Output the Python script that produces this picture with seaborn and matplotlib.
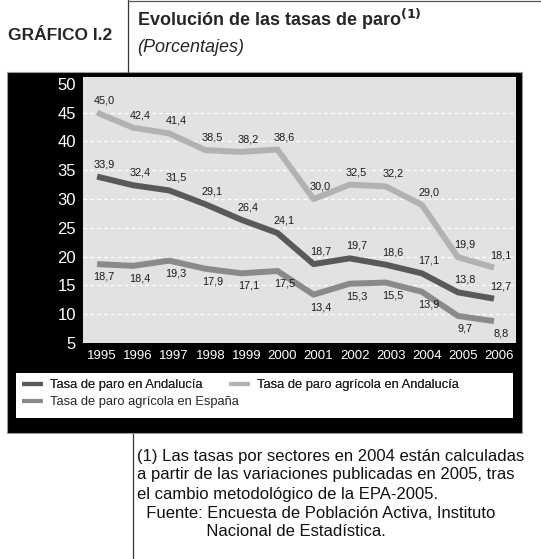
import pandas as pd
import seaborn as sns
import matplotlib.pyplot as plt
from matplotlib import font_manager
from matplotlib.patches import Rectangle
from matplotlib.lines import Line2D
import matplotlib.transforms as mtransforms

years = [1995, 1996, 1997, 1998, 1999, 2000, 2001, 2002, 2003, 2004, 2005, 2006]
paro_andalucia = [33.9, 32.4, 31.5, 29.1, 26.4, 24.1, 18.7, 19.7, 18.6, 17.1, 13.8, 12.7]
paro_agr_andalucia = [45.0, 42.4, 41.4, 38.5, 38.2, 38.6, 30.0, 32.5, 32.2, 29.0, 19.9, 18.1]
paro_agr_espana = [18.7, 18.4, 19.3, 17.9, 17.1, 17.5, 13.4, 15.3, 15.5, 13.9, 9.7, 8.8]
series_names = ["Tasa de paro en Andalucía",
                "Tasa de paro agrícola en Andalucía",
                "Tasa de paro agrícola en España"]
y_ticks = [5, 10, 15, 20, 25, 30, 35, 40, 45, 50]

colors = ["#595959", "#b2b2b2", "#8a8a8a"]

sns.set_style("white")
names = {f.name for f in font_manager.fontManager.ttflist}
narrow = "Liberation Sans Narrow" if "Liberation Sans Narrow" in names else "Liberation Sans"
plt.rcParams["font.family"] = ["Liberation Sans", "DejaVu Sans"]

W, H = 541, 559
fig = plt.figure(figsize=(W / 100, H / 100), dpi=100)


def fx(px):
    return px / W


def fy(py):
    return 1 - py / H


# black panel behind the chart
fig.patches.append(Rectangle((fx(7), fy(433)), fx(522) - fx(7), fy(72) - fy(433),
                             transform=fig.transFigure, facecolor="black",
                             edgecolor="#9a9a9a", lw=0.8, zorder=-3))
# white box for the legend
fig.patches.append(Rectangle((fx(16), fy(418)), fx(513) - fx(16), fy(373) - fy(418),
                             transform=fig.transFigure, facecolor="white",
                             edgecolor="none", zorder=-2))
# frame lines of the page
fig.lines.append(Line2D([fx(128), fx(128)], [fy(0), fy(72)], transform=fig.transFigure,
                        color="#333333", lw=0.9))
fig.lines.append(Line2D([fx(128), fx(541)], [fy(1), fy(1)], transform=fig.transFigure,
                        color="#555555", lw=0.9))
fig.lines.append(Line2D([fx(133), fx(133)], [fy(434), fy(559)], transform=fig.transFigure,
                        color="#333333", lw=0.9))

ax = fig.add_axes([fx(83), fy(343), fx(516) - fx(83), fy(77) - fy(343)])
ax.set_zorder(1)
ax.set_facecolor("#e1e2e1")

data = [paro_andalucia, paro_agr_andalucia, paro_agr_espana]
for name, vals, c in zip(series_names, data, colors):
    sns.lineplot(x=years, y=vals, color=c, lw=4.3, label=name, legend=False, ax=ax,
                 solid_capstyle="butt", zorder=3)

# value labels
for vals, dy in zip(data, [9, 9, -9]):
    for x, v in zip(years, vals):
        ax.annotate(f"{v:.1f}".replace(".", ","), (x, v), xytext=(5, dy),
                    textcoords="offset points", ha="center", va="center",
                    fontsize=7.8, color="#1a1a1a", zorder=4)

ax.set_xlim(1994.61, 2006.61)
ax.set_ylim(5, 51.2)
ax.set_yticks(y_ticks)
ax.set_xticks(years)
ax.set_xticklabels([str(y) for y in years], fontsize=9.5, color="white", family=narrow)
ax.set_yticklabels([str(t) for t in y_ticks], fontsize=12, color="white")
ax.tick_params(length=0)
ax.tick_params(axis="y", pad=5)
ax.tick_params(axis="x", pad=5)
shift = mtransforms.ScaledTranslation(5 / 100, 0, fig.dpi_scale_trans)
for lab in ax.get_xticklabels():
    lab.set_transform(lab.get_transform() + shift)
for yv in y_ticks[1:-1]:
    ax.axhline(yv, color="white", lw=0.9, ls=(0, (3, 2.5)), zorder=1)
for s in ax.spines.values():
    s.set_visible(False)
ax.set_xlabel("")
ax.set_ylabel("")

handles, labels = ax.get_legend_handles_labels()
leg1 = fig.legend([handles[0], handles[1]], [labels[0], labels[1]], ncol=2,
                  loc="center left", bbox_to_anchor=(fx(22), fy(385)), frameon=False,
                  fontsize=9.3, handlelength=1.6, handletextpad=0.55, columnspacing=2.1,
                  borderpad=0, borderaxespad=0)
for h in leg1.legend_handles:
    h.set_linewidth(3)
leg2 = fig.legend([handles[2]], [labels[2]], loc="center left",
                  bbox_to_anchor=(fx(22), fy(402)), frameon=False, fontsize=9.3,
                  handlelength=1.6, handletextpad=0.55, borderpad=0, borderaxespad=0)
for h in leg2.legend_handles:
    h.set_linewidth(3)
fig.add_artist(leg1)

# titles
fig.text(fx(8), fy(36), "GRÁFICO I.2", fontsize=12.5, fontweight="bold", family=narrow,
         va="center", ha="left")
fig.text(fx(137), fy(19), r"Evolución de las tasas de paro$^{\mathbf{(1)}}$", fontsize=13,
         fontweight="bold", va="center", ha="left")
fig.text(fx(137), fy(48), "(Porcentajes)", fontsize=13, fontstyle="italic",
         va="center", ha="left")

# footnotes
notes = ["(1) Las tasas por sectores en 2004 están calculadas",
         "a partir de las variaciones publicadas en 2005, tras",
         "el cambio metodológico de la EPA-2005.",
         "  Fuente: Encuesta de Población Activa, Instituto",
         "               Nacional de Estadística."]
for i, line in enumerate(notes):
    fig.text(fx(137), fy(456 + 19 * i), line, fontsize=12, family=narrow,
             va="center", ha="left", color="#111111")

fig.savefig("out.png", dpi=100)
